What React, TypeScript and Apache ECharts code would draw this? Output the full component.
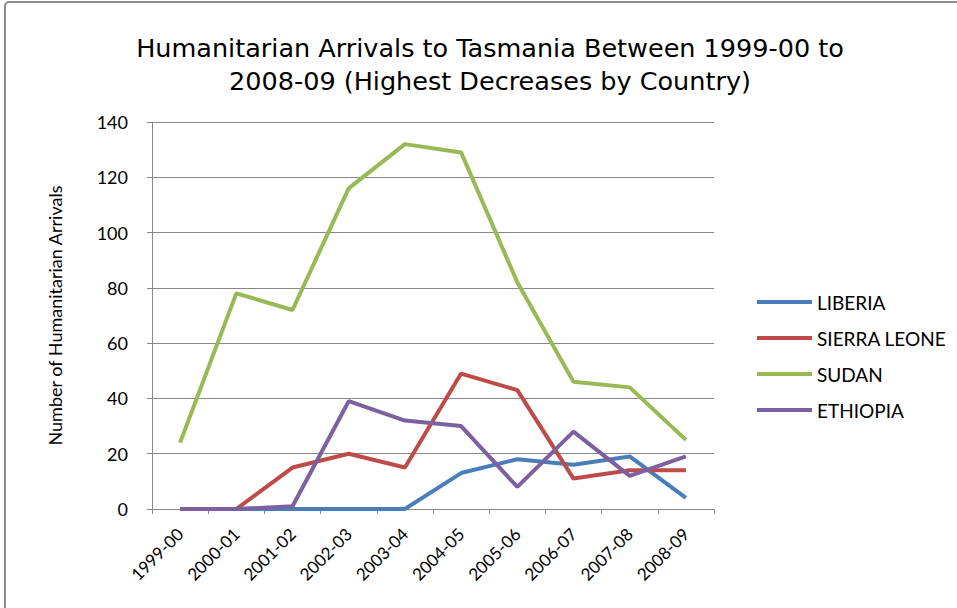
import React, { useEffect, useRef } from "react";
import * as echarts from "echarts";

const categories = ["1999-00", "2000-01", "2001-02", "2002-03", "2003-04", "2004-05", "2005-06", "2006-07", "2007-08", "2008-09"];
const liberia = [0, 0, 0, 0, 0, 13, 18, 16, 19, 4];
const sierraLeone = [0, 0, 15, 20, 15, 49, 43, 11, 14, 14];
const sudan = [24, 78, 72, 116, 132, 129, 82, 46, 44, 25];
const ethiopia = [0, 0, 1, 39, 32, 30, 8, 28, 12, 19];
const yTicks = { min: 0, max: 140, interval: 20 };

const FONT = "Lato, 'Open Sans', sans-serif";
const TITLE_FONT = "'DejaVu Sans', Lato, sans-serif";

export default function App() {
  const ref = useRef<HTMLDivElement>(null);
  useEffect(() => {
    document.body.style.margin = "0";
    const chart = echarts.init(ref.current!, null, { renderer: "svg" });
    const mk = (name: string, data: number[], color: string) => ({
      name,
      type: "line",
      data,
      symbol: "none",
      lineStyle: { width: 4, color },
      itemStyle: { color },
    });
    chart.setOption({
      animation: false,
      backgroundColor: "#ffffff",
      title: [
        {
          text: "Humanitarian Arrivals to Tasmania Between 1999-00 to",
          left: 485,
          top: 30,
          textAlign: "center",
          textStyle: { fontFamily: TITLE_FONT, fontSize: 25.5, fontWeight: "normal", color: "#000" },
        },
        {
          text: "2008-09 (Highest Decreases by Country)",
          left: 485,
          top: 63,
          textAlign: "center",
          textStyle: { fontFamily: TITLE_FONT, fontSize: 25.5, fontWeight: "normal", color: "#000" },
        },
      ],
      graphic: [
        {
          type: "rect",
          shape: { x: 5, y: 2, width: 1000, height: 700, r: 4 },
          style: { fill: "none", stroke: "#8c8c8c", lineWidth: 2 },
          silent: true,
        },
      ],
      legend: {
        orient: "vertical",
        left: 752,
        top: 286,
        icon: "rect",
        itemWidth: 55,
        itemHeight: 4,
        itemGap: 14,
        textStyle: { fontFamily: FONT, fontSize: 19, color: "#000", lineHeight: 22 },
        data: ["LIBERIA", "SIERRA LEONE", "SUDAN", "ETHIOPIA"],
      },
      grid: { left: 152, top: 122, width: 562, bottom: 99, containLabel: false },
      xAxis: {
        type: "category",
        data: categories,
        boundaryGap: true,
        axisLine: { show: true, lineStyle: { color: "#888", width: 1 } },
        axisTick: { show: true, length: 5, lineStyle: { color: "#888" } },
        axisLabel: { rotate: 45, fontFamily: FONT, fontSize: 17, color: "#000", margin: 22, interval: 0 },
      },
      yAxis: {
        type: "value",
        min: yTicks.min,
        max: yTicks.max,
        interval: yTicks.interval,
        name: "Number of Humanitarian Arrivals",
        nameLocation: "middle",
        nameGap: 88,
        nameRotate: 90,
        nameTextStyle: { fontFamily: FONT, fontSize: 18, color: "#000" },
        axisLine: { show: true, lineStyle: { color: "#888", width: 1 } },
        axisTick: { show: true, length: 5, lineStyle: { color: "#888" } },
        splitLine: { show: true, lineStyle: { color: "#888", width: 1 } },
        axisLabel: { fontFamily: FONT, fontSize: 18, color: "#000", margin: 24 },
      },
      series: [
        mk("LIBERIA", liberia, "#4a7ebb"),
        mk("SIERRA LEONE", sierraLeone, "#be4b48"),
        mk("SUDAN", sudan, "#98b954"),
        mk("ETHIOPIA", ethiopia, "#7d60a0"),
      ],
    });
    return () => chart.dispose();
  }, []);
  return <div ref={ref} style={{ width: 957, height: 608 }} />;
}
